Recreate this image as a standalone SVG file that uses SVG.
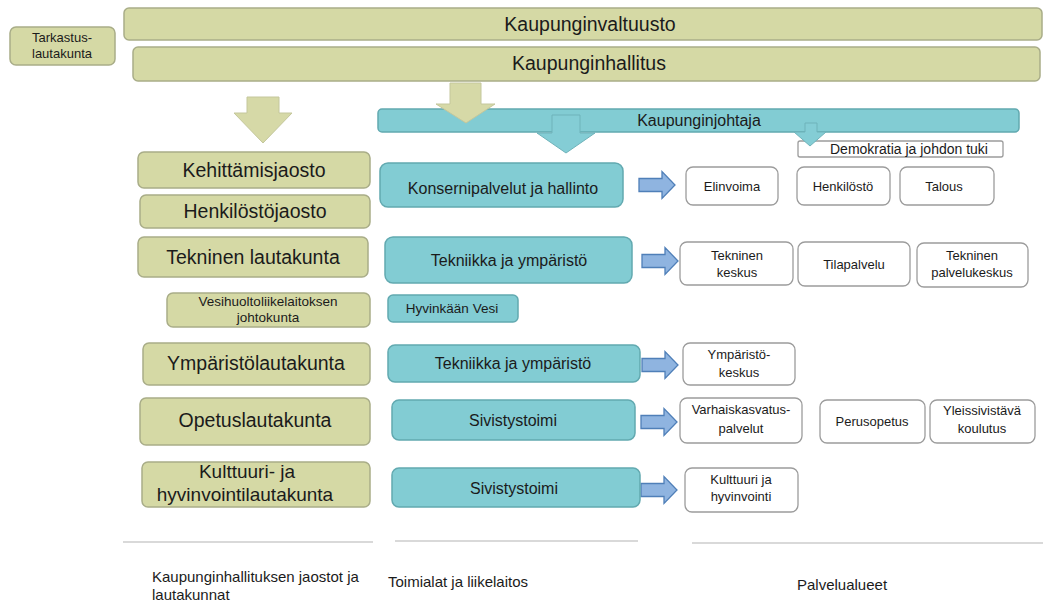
<svg xmlns="http://www.w3.org/2000/svg" width="1043" height="605" viewBox="0 0 1043 605">
<style>
text{font-family:"Liberation Sans",Arial,sans-serif;fill:#1b1b1b;text-anchor:middle}
.ol{fill:#d5d9a5;stroke:#a9ad88;stroke-width:1.5}
.tl{fill:#82ccd3;stroke:#62a9b0;stroke-width:1.5}
.wh{fill:#ffffff;stroke:#9c9c9c;stroke-width:1.3}
.oa{fill:#d6d9a7;stroke:#c4c79c;stroke-width:1}
.ta{fill:#84cdd5;stroke:#6fb3ba;stroke-width:1}
.ba{fill:#8fb4e0;stroke:#4f7fb8;stroke-width:1.3}
.ln{stroke:#cccccc;stroke-width:1.5;fill:none}
.l{font-size:19.5px}
.m{font-size:16px}
.s{font-size:13px}
.b{font-size:15px;text-anchor:start}
</style>
<defs>
<path id="barrow" d="M0,-6.5 H23 V-13.5 L36,0 L23,13.5 V6.5 H0 Z"/>
</defs>

<g id="kaupunginvaltuusto"><rect class="ol" x="124" y="8" width="918" height="32" rx="5"/><text class="l" x="590" y="31">Kaupunginvaltuusto</text></g>
<g id="kaupunginhallitus"><rect class="ol" x="133" y="47" width="907" height="34" rx="5"/><text class="l" x="589" y="70">Kaupunginhallitus</text></g>
<g id="tarkastuslautakunta"><rect class="ol" x="10" y="27" width="105" height="38" rx="6"/><text class="s" x="62" y="42">Tarkastus-</text><text class="s" x="62" y="58">lautakunta</text></g>

<g id="kaupunginjohtaja"><rect class="tl" x="378" y="109" width="641" height="23" rx="4"/><text class="m" x="699" y="126">Kaupunginjohtaja</text></g>
<g id="demokratia"><rect class="wh" x="798" y="141" width="205" height="16" rx="2"/><text x="909" y="154" style="font-size:14px">Demokratia ja johdon tuki</text></g>

<g id="connectors">
<path class="oa" d="M247,97 H279 V113 H292 L263,143 L234,113 H247 Z"/>
<path class="oa" d="M450,83 H481 V104 H495 L466,123 L436,104 H450 Z"/>
<path class="ta" d="M552,115 H580 V133 H595 L566,153 L537,133 H552 Z"/>
<path class="ta" d="M805,123 H817 V132 H826 L810,146 L794,132 H805 Z"/>
<use href="#barrow" class="ba" transform="translate(639,185)"/>
<use href="#barrow" class="ba" transform="translate(642,261)"/>
<use href="#barrow" class="ba" transform="translate(642,365)"/>
<use href="#barrow" class="ba" transform="translate(641,422)"/>
<use href="#barrow" class="ba" transform="translate(641,490)"/>
<line class="ln" x1="123" y1="542" x2="373" y2="542"/>
<line class="ln" x1="395" y1="541" x2="638" y2="541"/>
<line class="ln" x1="692" y1="543" x2="1043" y2="543"/>
</g>

<g id="kehittamisjaosto"><rect class="ol" x="138" y="152" width="232" height="36" rx="6"/><text class="l" x="254" y="177">Kehittämisjaosto</text></g>
<g id="henkilostojaosto"><rect class="ol" x="140" y="195" width="230" height="33" rx="6"/><text class="l" x="255" y="218">Henkilöstöjaosto</text></g>
<g id="tekninenlautakunta"><rect class="ol" x="138" y="237" width="230" height="40" rx="6"/><text class="l" x="253" y="264">Tekninen lautakunta</text></g>
<g id="vesihuolto"><rect class="ol" x="167" y="293" width="203" height="34" rx="6"/><text x="268" y="306" style="font-size:13.5px">Vesihuoltoliikelaitoksen</text><text x="268" y="322" style="font-size:13.5px">johtokunta</text></g>
<g id="ymparistolautakunta"><rect class="ol" x="143" y="343" width="227" height="42" rx="6"/><text class="l" x="256" y="370">Ympäristölautakunta</text></g>
<g id="opetuslautakunta"><rect class="ol" x="140" y="398" width="230" height="47" rx="6"/><text class="l" x="255" y="427">Opetuslautakunta</text></g>
<g id="kulttuurilautakunta"><rect class="ol" x="142" y="462" width="228" height="45" rx="6"/><text x="247" y="478" style="font-size:19px">Kulttuuri- ja</text><text x="245" y="501" style="font-size:19px">hyvinvointilautakunta</text></g>

<g id="konsernipalvelut"><rect class="tl" x="380" y="163" width="243" height="44" rx="8"/><text class="m" x="503" y="194">Konsernipalvelut ja hallinto</text></g>
<g id="tekniikka1"><rect class="tl" x="385" y="237" width="247" height="46" rx="8"/><text class="m" x="509" y="266">Tekniikka ja ympäristö</text></g>
<g id="hyvinkaanvesi"><rect class="tl" x="388" y="295" width="130" height="27" rx="5"/><text x="452" y="313" style="font-size:13.5px">Hyvinkään Vesi</text></g>
<g id="tekniikka2"><rect class="tl" x="388" y="345" width="252" height="37" rx="7"/><text class="m" x="513" y="369">Tekniikka ja ympäristö</text></g>
<g id="sivistystoimi1"><rect class="tl" x="392" y="400" width="243" height="40" rx="7"/><text class="m" x="513" y="426">Sivistystoimi</text></g>
<g id="sivistystoimi2"><rect class="tl" x="392" y="468" width="248" height="39" rx="7"/><text class="m" x="514" y="494">Sivistystoimi</text></g>

<g id="elinvoima"><rect class="wh" x="686" y="167" width="92" height="38" rx="7"/><text class="s" x="732" y="191">Elinvoima</text></g>
<g id="henkilosto"><rect class="wh" x="797" y="167" width="93" height="38" rx="7"/><text class="s" x="843" y="191">Henkilöstö</text></g>
<g id="talous"><rect class="wh" x="900" y="167" width="94" height="38" rx="7"/><text class="s" x="944" y="191">Talous</text></g>
<g id="tekninenkeskus"><rect class="wh" x="680" y="242" width="113" height="43" rx="7"/><text class="s" x="737" y="260">Tekninen</text><text class="s" x="737" y="277">keskus</text></g>
<g id="tilapalvelu"><rect class="wh" x="798" y="242" width="112" height="44" rx="7"/><text class="s" x="854" y="269">Tilapalvelu</text></g>
<g id="tekninenpalvelukeskus"><rect class="wh" x="917" y="243" width="111" height="44" rx="7"/><text class="s" x="972" y="260">Tekninen</text><text class="s" x="972" y="277">palvelukeskus</text></g>
<g id="ymparistokeskus"><rect class="wh" x="683" y="343" width="112" height="42" rx="7"/><text class="s" x="739" y="359">Ympäristö-</text><text class="s" x="739" y="377">keskus</text></g>
<g id="varhaiskasvatus"><rect class="wh" x="680" y="398" width="122" height="45" rx="7"/><text class="s" x="741" y="414">Varhaiskasvatus-</text><text class="s" x="741" y="433">palvelut</text></g>
<g id="perusopetus"><rect class="wh" x="820" y="400" width="105" height="43" rx="7"/><text class="s" x="872" y="426">Perusopetus</text></g>
<g id="yleissivistava"><rect class="wh" x="930" y="400" width="105" height="43" rx="7"/><text class="s" x="982" y="415">Yleissivistävä</text><text class="s" x="982" y="433">koulutus</text></g>
<g id="kulttuurijahyvinvointi"><rect class="wh" x="685" y="468" width="113" height="44" rx="7"/><text class="s" x="741" y="484">Kulttuuri ja</text><text class="s" x="741" y="501">hyvinvointi</text></g>

<g id="labels">
<text class="b" x="152" y="582">Kaupunginhallituksen jaostot ja</text>
<text class="b" x="152" y="600">lautakunnat</text>
<text class="b" x="388" y="587">Toimialat ja liikelaitos</text>
<text class="b" x="797" y="590">Palvelualueet</text>
</g>
</svg>
